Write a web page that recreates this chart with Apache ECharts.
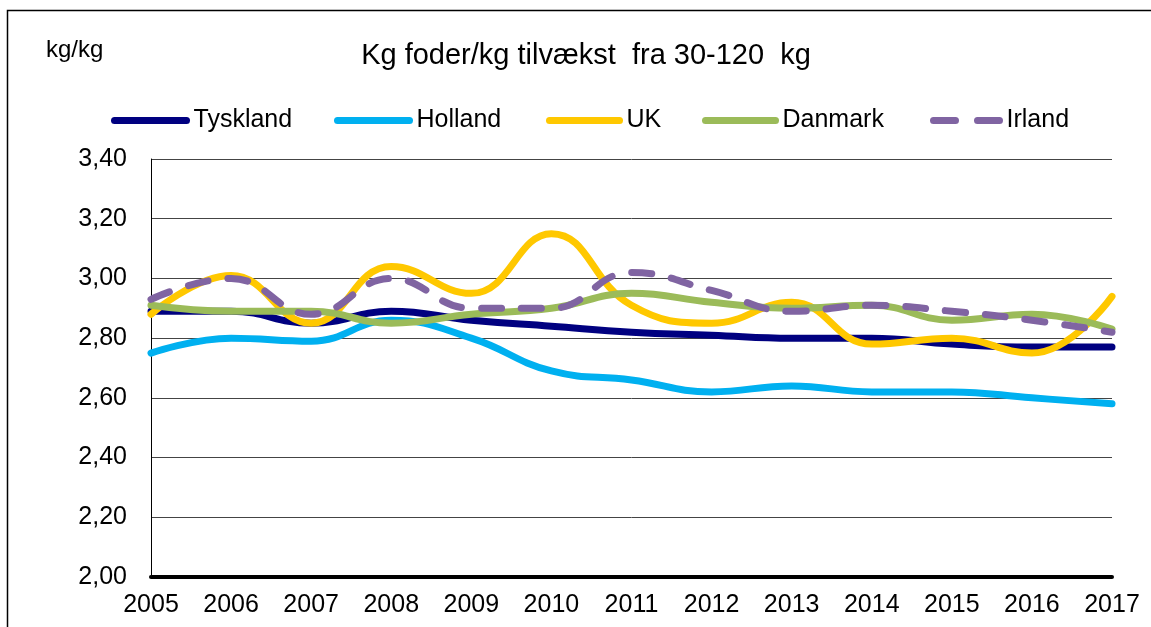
<!DOCTYPE html>
<html>
<head>
<meta charset="utf-8">
<title>Kg foder/kg tilvækst</title>
<script src="https://cdn.jsdelivr.net/npm/echarts@6/dist/echarts.min.js"></script>
<style>
  html, body { margin: 0; padding: 0; background: #fff; }
  #chart { width: 1151px; height: 627px; }
</style>
</head>
<body>
<div id="chart"></div>
<script>
// values
const years = ['2005', '2006', '2007', '2008', '2009', '2010', '2011', '2012', '2013', '2014', '2015', '2016', '2017'];
const tyskland = [2.89, 2.89, 2.85, 2.89, 2.86, 2.84, 2.82, 2.81, 2.80, 2.80, 2.78, 2.77, 2.77];
const holland = [2.75, 2.80, 2.79, 2.86, 2.80, 2.69, 2.66, 2.62, 2.64, 2.62, 2.62, 2.60, 2.58];
const uk = [2.88, 3.01, 2.85, 3.04, 2.95, 3.15, 2.91, 2.85, 2.92, 2.78, 2.80, 2.75, 2.94];
const danmark = [2.91, 2.89, 2.89, 2.85, 2.88, 2.90, 2.95, 2.92, 2.90, 2.91, 2.86, 2.88, 2.83];
const irland = [2.93, 3.00, 2.88, 3.00, 2.90, 2.90, 3.02, 2.96, 2.89, 2.91, 2.89, 2.86, 2.82];

const FONT = 'Liberation Sans, Arial, sans-serif';

const lineSeries = (name, data, color, dash) => ({
  name: name,
  type: 'line',
  data: data,
  smooth: 0.45,
  symbol: 'none',
  animation: false,
  lineStyle: {
    width: 7,
    color: color,
    type: dash || 'solid',
    cap: 'round',
    join: 'round'
  },
  itemStyle: { color: color }
});

// one legend per entry so the spacing follows the original
const legendAt = (name, left, width, dash) => ({
  data: [name],
  left: left,
  top: 108,
  padding: 0,
  itemWidth: width,
  itemHeight: 14,
  itemGap: 0,
  textStyle: { fontFamily: FONT, fontSize: 25, color: '#000', padding: [0, 0, 0, 2] },
  itemStyle: { opacity: 0 },
  lineStyle: { width: 7, cap: 'round', type: dash || 'solid' },
  selectedMode: false
});

const myChart = echarts.init(document.getElementById('chart'), null, { renderer: 'canvas' });

myChart.setOption({
  backgroundColor: '#fff',
  animation: false,
  title: [
    {
      text: 'Kg foder/kg tilvækst  fra 30-120  kg',
      left: 581,
      top: 36,
      textAlign: 'center',
      textStyle: { fontFamily: FONT, fontSize: 29, fontWeight: 'normal', color: '#000' }
    },
    {
      text: 'kg/kg',
      left: 41,
      top: 33,
      textStyle: { fontFamily: FONT, fontSize: 24, fontWeight: 'normal', color: '#000' }
    }
  ],
  legend: [
    legendAt('Tyskland', 111, 72),
    legendAt('Holland', 334, 72),
    legendAt('UK', 546, 70),
    legendAt('Danmark', 702, 70),
    legendAt('Irland', 930, 66, [22, 22])
  ],
  grid: {
    left: 151,
    right: 39,
    top: 159,
    bottom: 50,
    containLabel: false
  },
  xAxis: {
    type: 'category',
    data: years,
    boundaryGap: false,
    axisLine: { show: true, lineStyle: { color: '#000', width: 4 } },
    axisTick: { show: false },
    axisLabel: {
      fontFamily: FONT,
      fontSize: 25,
      color: '#000',
      margin: 16,
      interval: 0
    },
    splitLine: { show: false }
  },
  yAxis: {
    type: 'value',
    min: 2.0,
    max: 3.4,
    interval: 0.2,
    axisLine: { show: true, lineStyle: { color: '#000', width: 1 } },
    axisTick: { show: false },
    axisLabel: {
      fontFamily: FONT,
      fontSize: 25,
      color: '#000',
      margin: 24,
      formatter: function (v) {
        return v.toFixed(2).replace('.', ',');
      }
    },
    splitLine: { show: true, lineStyle: { color: '#444', width: 1 } }
  },
  graphic: [
    {
      type: 'rect',
      silent: true,
      shape: { x: 7.5, y: 10.5, width: 1170, height: 640 },
      style: { fill: 'none', stroke: '#000', lineWidth: 1.5 }
    }
  ],
  series: [
    lineSeries('Tyskland', tyskland, '#000080'),
    lineSeries('Holland', holland, '#00B0F0'),
    lineSeries('UK', uk, '#FFC800'),
    lineSeries('Danmark', danmark, '#9BBB59'),
    lineSeries('Irland', irland, '#8064A2', [20, 20])
  ]
});
</script>
</body>
</html>
